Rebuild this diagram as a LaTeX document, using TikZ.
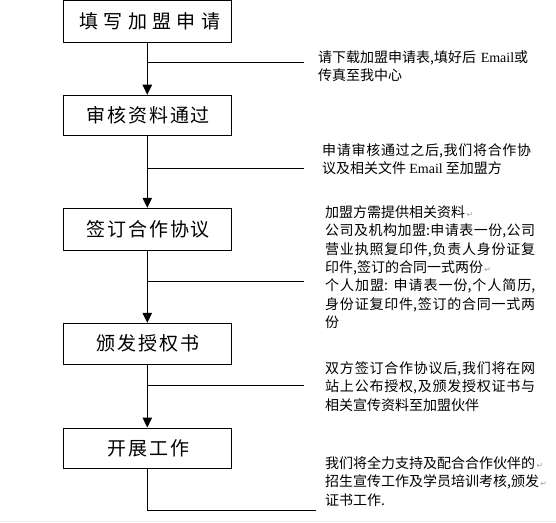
\documentclass[tikz,border=0pt]{standalone}
\usepackage{fontspec}
\setmainfont{Noto Sans CJK SC}
\newfontfamily\boxfont[LetterSpace=10]{Noto Sans CJK SC}
\newfontfamily\boxfontwide[LetterSpace=28]{Noto Sans CJK SC}
\newfontfamily\latinserif{Liberation Serif}
\newfontfamily\symfont{DejaVu Sans}
\usetikzlibrary{arrows.meta}
\XeTeXlinebreaklocale "zh"
\XeTeXlinebreakskip=0pt plus 2pt
\setlength\parindent{0pt}
\definecolor{stripgray}{HTML}{F0F0EA}
\definecolor{markgray}{HTML}{A0A0A0}
\newcommand\pmark{{\symfont\fontsize{8}{8}\selectfont\color{markgray}\,↵}}
\begin{document}
\begin{tikzpicture}[x=1pt,y=-1pt,
  stepbox/.style={draw, line width=1pt, minimum width=168pt, inner sep=0pt,
    font=\fontsize{19}{19}\selectfont},
  note/.style={anchor=north west, inner sep=0pt, text width=210pt, align=justify,
    font=\fontsize{14}{18.3}\selectfont},
  plainnote/.style={note, align=left},
  flow/.style={line width=1pt, -{Triangle[width=9.5pt,length=10pt]}},
  branch/.style={line width=1pt}]
\useasboundingbox (0,0) rectangle (556,522);
\fill[stripgray] (0,520.8) rectangle (556,522);

% steps
\node[stepbox, minimum height=41.7pt] (s1) at (147.3,21.45) {\hspace*{5.3pt}\boxfontwide 填写加盟申请};
\node[stepbox, minimum height=40.1pt] (s2) at (147.3,115.25) {\hspace*{1.9pt}\boxfont 审核资料通过};
\node[stepbox, minimum height=42pt] (s3) at (147.3,229.3) {\hspace*{1.9pt}\boxfont 签订合作协议};
\node[stepbox, minimum height=40.7pt] (s4) at (147.3,343.65) {\hspace*{1.9pt}\boxfont 颁发授权书};
\node[stepbox, minimum height=40pt] (s5) at (147.3,448) {\hspace*{1.9pt}\boxfont 开展工作};

% main flow
\draw[flow] (s1) -- (s2);
\draw[flow] (s2) -- (s3);
\draw[flow] (s3) -- (s4);
\draw[flow] (s4) -- (s5);

% branches
\coordinate (b1) at (147.3,62.8);  \coordinate (e1) at (304,62.8);
\coordinate (b2) at (147.3,168);   \coordinate (e2) at (304,168);
\coordinate (b3) at (147.3,281);   \coordinate (e3) at (304,281);
\coordinate (b4) at (147.3,385);   \coordinate (e4) at (304,385);
\coordinate (e5) at (315.7,510.3);
\draw[branch] (b1) -- (e1);
\draw[branch] (b2) -- (e2);
\draw[branch] (b3) -- (e3);
\draw[branch] (b4) -- (e4);
\draw[branch] (s5) |- (e5);

% notes
\node[plainnote, text width=220pt] (t1) at (318,50.5) {请下载加盟申请表,填好后 {\latinserif Email}或\\传真至我中心};
\node[note, text width=209pt] (t2) at (322,143.5) {申请审核通过之后,我们将合作协\linebreak
议及相关文件 {\latinserif Email} 至加盟方};
\node[note] (t3) at (325,205.5) {加盟方需提供相关资料\pmark\\
公司及机构加盟:申请表一份,公司\linebreak
营业执照复印件,负责人身份证复\linebreak
印件,签订的合同一式两份\pmark\\
个人加盟: 申请表一份,个人简历,\linebreak
身份证复印件,签订的合同一式两\linebreak
份};
\node[note] (t4) at (325,361.5) {双方签订合作协议后,我们将在网\linebreak
站上公布授权,及颁发授权证书与\linebreak
相关宣传资料至加盟伙伴};
\node[plainnote, text width=222pt] (t5) at (325,456.5) {我们将全力支持及配合合作伙伴的\pmark\\
招生宣传工作及学员培训考核,颁发\pmark\\
证书工作.};
\end{tikzpicture}
\end{document}
